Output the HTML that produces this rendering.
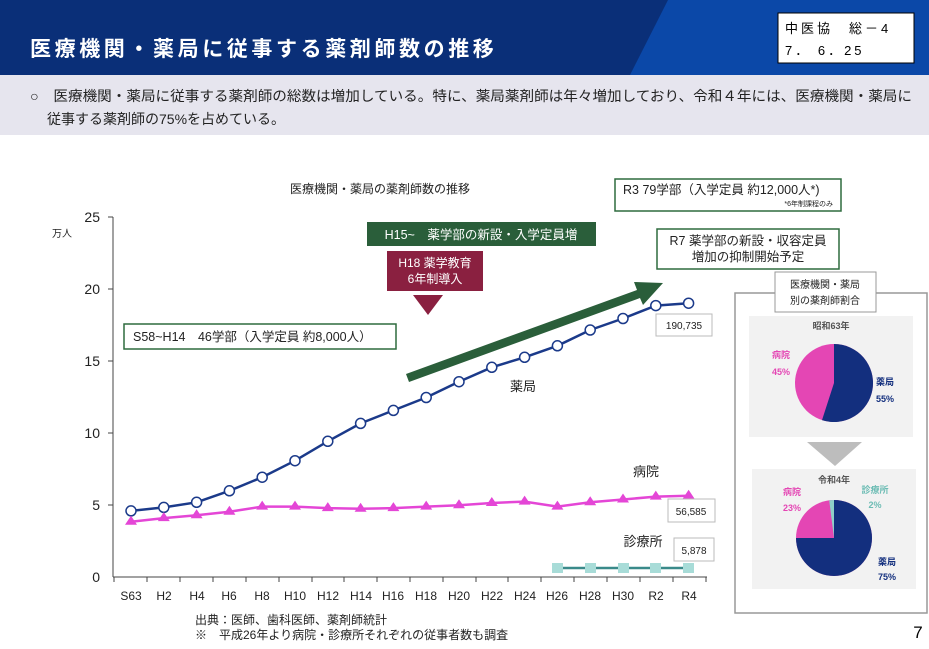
<!DOCTYPE html>
<html><head><meta charset="utf-8"><style>
body{margin:0;width:929px;height:644px;background:#fff;overflow:hidden;font-family:"Liberation Sans","Noto Sans CJK JP",sans-serif}
</style></head><body>
<svg width="929" height="644" xmlns="http://www.w3.org/2000/svg" font-family="Liberation Sans, Noto Sans CJK JP, sans-serif">
<rect x="0" y="0" width="929" height="75" fill="#0a2f78"/>
<path d="M668,0 L929,0 L929,75 L630,75z" fill="#0b48a8"/>
<text x="30" y="56" font-size="21" font-weight="bold" fill="#fff" letter-spacing="3.6">医療機関・薬局に従事する薬剤師数の推移</text>
<rect x="778" y="13" width="136" height="50" fill="#fff" stroke="#000"/>
<text x="785" y="33" font-size="13" fill="#000" letter-spacing="3">中医協　総－4</text>
<text x="785" y="55" font-size="13" fill="#000" letter-spacing="3">7．  6．25</text>
<rect x="0" y="75" width="929" height="60" fill="#e6e5ee"/>
<text x="30" y="101" font-size="14" fill="#222" textLength="882" lengthAdjust="spacingAndGlyphs">○　医療機関・薬局に従事する薬剤師の総数は増加している。特に、薬局薬剤師は年々増加しており、令和４年には、医療機関・薬局に</text>
<text x="47" y="124" font-size="14" fill="#222">従事する薬剤師の75%を占めている。</text>

<text x="380" y="193" font-size="12" text-anchor="middle" fill="#222">医療機関・薬局の薬剤師数の推移</text>
<text x="52" y="237" font-size="10" fill="#222">万人</text>
<g font-size="14" fill="#222" text-anchor="end">
<text x="100" y="222">25</text><text x="100" y="294">20</text><text x="100" y="366">15</text><text x="100" y="438">10</text><text x="100" y="510">5</text><text x="100" y="582">0</text></g>
<line x1="113" y1="217" x2="113" y2="577" stroke="#444"/>
<g stroke="#444"><line x1="108" y1="217" x2="113" y2="217"/><line x1="108" y1="289" x2="113" y2="289"/><line x1="108" y1="361" x2="113" y2="361"/><line x1="108" y1="433" x2="113" y2="433"/><line x1="108" y1="505" x2="113" y2="505"/></g>
<line x1="113" y1="577" x2="707" y2="577" stroke="#444"/>
<g stroke="#444">
<line x1="114" y1="577" x2="114" y2="582"/><line x1="147" y1="577" x2="147" y2="582"/><line x1="180" y1="577" x2="180" y2="582"/><line x1="213" y1="577" x2="213" y2="582"/><line x1="246" y1="577" x2="246" y2="582"/><line x1="279" y1="577" x2="279" y2="582"/><line x1="312" y1="577" x2="312" y2="582"/><line x1="344" y1="577" x2="344" y2="582"/><line x1="377" y1="577" x2="377" y2="582"/><line x1="410" y1="577" x2="410" y2="582"/><line x1="443" y1="577" x2="443" y2="582"/><line x1="476" y1="577" x2="476" y2="582"/><line x1="508" y1="577" x2="508" y2="582"/><line x1="541" y1="577" x2="541" y2="582"/><line x1="574" y1="577" x2="574" y2="582"/><line x1="607" y1="577" x2="607" y2="582"/><line x1="640" y1="577" x2="640" y2="582"/><line x1="673" y1="577" x2="673" y2="582"/><line x1="706" y1="577" x2="706" y2="582"/></g>
<g font-size="12" fill="#222" text-anchor="middle">
<text x="131" y="600">S63</text><text x="164" y="600">H2</text><text x="197" y="600">H4</text><text x="229" y="600">H6</text><text x="262" y="600">H8</text><text x="295" y="600">H10</text><text x="328" y="600">H12</text><text x="361" y="600">H14</text><text x="393" y="600">H16</text><text x="426" y="600">H18</text><text x="459" y="600">H20</text><text x="492" y="600">H22</text><text x="525" y="600">H24</text><text x="557" y="600">H26</text><text x="590" y="600">H28</text><text x="623" y="600">H30</text><text x="656" y="600">R2</text><text x="689" y="600">R4</text></g>
<text x="195" y="624" font-size="12" fill="#222">出典：医師、歯科医師、薬剤師統計</text>
<text x="195" y="639" font-size="12" fill="#222">※　平成26年より病院・診療所それぞれの従事者数も調査</text>

<polyline fill="none" stroke="#1b3a8a" stroke-width="2.5" points="131,510.9 163.8,507.4 196.6,502.3 229.4,490.8 262.2,477.2 295,460.7 327.8,441.3 360.6,423.4 393.4,410.4 426.2,397.5 459,381.7 491.8,367.3 524.6,357.3 557.4,345.8 590.2,330 623,318.5 655.8,305.6 688.6,303.2"/>
<g fill="#fff" stroke="#1b3a8a" stroke-width="1.5">
<circle cx="131" cy="510.9" r="5"/><circle cx="163.8" cy="507.4" r="5"/><circle cx="196.6" cy="502.3" r="5"/><circle cx="229.4" cy="490.8" r="5"/><circle cx="262.2" cy="477.2" r="5"/><circle cx="295" cy="460.7" r="5"/><circle cx="327.8" cy="441.3" r="5"/><circle cx="360.6" cy="423.4" r="5"/><circle cx="393.4" cy="410.4" r="5"/><circle cx="426.2" cy="397.5" r="5"/><circle cx="459" cy="381.7" r="5"/><circle cx="491.8" cy="367.3" r="5"/><circle cx="524.6" cy="357.3" r="5"/><circle cx="557.4" cy="345.8" r="5"/><circle cx="590.2" cy="330" r="5"/><circle cx="623" cy="318.5" r="5"/><circle cx="655.8" cy="305.6" r="5"/><circle cx="688.6" cy="303.2" r="5"/></g>
<polyline fill="none" stroke="#e446d6" stroke-width="2.5" points="131,521.7 163.8,518.1 196.6,515.3 229.4,511.7 262.2,506.6 295,506.6 327.8,508.1 360.6,508.8 393.4,508.1 426.2,506.6 459,505.2 491.8,503 524.6,501.6 557.4,506.6 590.2,502.3 623,499.5 655.8,496.6 688.6,495.7"/>
<g fill="#e446d6">
<path d="M131,515.7l6,9h-12z"/><path d="M163.8,512.1l6,9h-12z"/><path d="M196.6,509.3l6,9h-12z"/><path d="M229.4,505.7l6,9h-12z"/><path d="M262.2,500.6l6,9h-12z"/><path d="M295,500.6l6,9h-12z"/><path d="M327.8,502.1l6,9h-12z"/><path d="M360.6,502.8l6,9h-12z"/><path d="M393.4,502.1l6,9h-12z"/><path d="M426.2,500.6l6,9h-12z"/><path d="M459,499.2l6,9h-12z"/><path d="M491.8,497l6,9h-12z"/><path d="M524.6,495.6l6,9h-12z"/><path d="M557.4,500.6l6,9h-12z"/><path d="M590.2,496.3l6,9h-12z"/><path d="M623,493.5l6,9h-12z"/><path d="M655.8,490.6l6,9h-12z"/><path d="M688.6,489.7l6,9h-12z"/></g>
<line x1="557.4" y1="568" x2="688.6" y2="568" stroke="#3a8a8a" stroke-width="2.5"/>
<g fill="#a8dcd8"><rect x="552" y="563" width="11" height="10"/><rect x="585" y="563" width="11" height="10"/><rect x="618" y="563" width="11" height="10"/><rect x="650" y="563" width="11" height="10"/><rect x="683" y="563" width="11" height="10"/></g>

<text x="523" y="391" font-size="13" text-anchor="middle" fill="#222">薬局</text>
<text x="646" y="476" font-size="13" text-anchor="middle" fill="#222">病院</text>
<text x="643" y="546" font-size="13" text-anchor="middle" fill="#222">診療所</text>
<rect x="656" y="314" width="56" height="22" fill="#fff" stroke="#bbb"/><text x="684" y="329" font-size="10" text-anchor="middle" fill="#222">190,735</text>
<rect x="668" y="499" width="47" height="23" fill="#fff" stroke="#bbb"/><text x="691" y="515" font-size="10" text-anchor="middle" fill="#222">56,585</text>
<rect x="674" y="538" width="40" height="23" fill="#fff" stroke="#bbb"/><text x="694" y="554" font-size="10" text-anchor="middle" fill="#222">5,878</text>

<rect x="124" y="324" width="272" height="25" fill="#fff" stroke="#2e6b3e" stroke-width="1.5"/>
<text x="133" y="341" font-size="12.5" fill="#222">S58~H14　46学部（入学定員 約8,000人）</text>
<rect x="367" y="222" width="229" height="24" fill="#2a5e3a"/>
<text x="481" y="239" font-size="12.5" text-anchor="middle" fill="#fff">H15~　薬学部の新設・入学定員増</text>
<rect x="387" y="251" width="96" height="40" fill="#8a2040"/>
<text x="435" y="267" font-size="12" text-anchor="middle" fill="#fff">H18 薬学教育</text>
<text x="435" y="283" font-size="12" text-anchor="middle" fill="#fff">6年制導入</text>
<path d="M413,295h30l-15,20z" fill="#8a2040"/>
<path d="M406,374 L637,290 L634,282 L663,283 L643,305 L640,298 L409,382z" fill="#2a5e3a"/>
<rect x="615" y="179" width="226" height="32" fill="#fff" stroke="#2e6b3e" stroke-width="1.5"/>
<text x="623" y="194" font-size="12.5" fill="#222">R3 79学部（入学定員 約12,000人*)</text>
<text x="833" y="206" font-size="7" text-anchor="end" fill="#222">*6年制課程のみ</text>
<rect x="657" y="229" width="182" height="40" fill="#fff" stroke="#2e6b3e" stroke-width="1.5"/>
<text x="748" y="245" font-size="12.5" text-anchor="middle" fill="#222">R7 薬学部の新設・収容定員</text>
<text x="748" y="261" font-size="12.5" text-anchor="middle" fill="#222">増加の抑制開始予定</text>

<rect x="735" y="293" width="192" height="320" fill="#fff" stroke="#999" stroke-width="1.5"/>
<rect x="775" y="272" width="101" height="40" fill="#fff" stroke="#999"/>
<text x="825" y="288" font-size="10" text-anchor="middle" fill="#222">医療機関・薬局</text>
<text x="825" y="304" font-size="10" text-anchor="middle" fill="#222">別の薬剤師割合</text>
<rect x="749" y="316" width="164" height="121" fill="#f2f2f2"/>
<text x="831" y="329" font-size="9" font-weight="bold" text-anchor="middle" fill="#555">昭和63年</text>
<circle cx="834" cy="383" r="39" fill="#e446b4"/>
<path d="M834,383 L834,344 A39,39 0 1,1 822.0,420.1z" fill="#132f7e"/>
<text x="781" y="358" font-size="9" font-weight="bold" fill="#e446b4" text-anchor="middle">病院</text>
<text x="781" y="375" font-size="9" font-weight="bold" fill="#e446b4" text-anchor="middle">45%</text>
<text x="885" y="385" font-size="9" font-weight="bold" fill="#132f7e" text-anchor="middle">薬局</text>
<text x="885" y="402" font-size="9" font-weight="bold" fill="#132f7e" text-anchor="middle">55%</text>
<path d="M807,442h55l-27,24z" fill="#bdbdbd"/>
<rect x="752" y="469" width="164" height="120" fill="#f2f2f2"/>
<text x="834" y="483" font-size="9" font-weight="bold" text-anchor="middle" fill="#555">令和4年</text>
<circle cx="834" cy="538" r="38" fill="#e446b4"/>
<path d="M834,538 L834,500 A38,38 0 1,1 796,538z" fill="#132f7e"/>
<path d="M834,538 L829.2,500.3 A38,38 0 0,1 834,500z" fill="#8ed0c8"/>
<text x="792" y="495" font-size="9" font-weight="bold" fill="#e446b4" text-anchor="middle">病院</text>
<text x="792" y="511" font-size="9" font-weight="bold" fill="#e446b4" text-anchor="middle">23%</text>
<text x="875" y="493" font-size="9" font-weight="bold" fill="#6cbcb4" text-anchor="middle">診療所</text>
<text x="875" y="508" font-size="9" font-weight="bold" fill="#6cbcb4" text-anchor="middle">2%</text>
<text x="887" y="565" font-size="9" font-weight="bold" fill="#132f7e" text-anchor="middle">薬局</text>
<text x="887" y="580" font-size="9" font-weight="bold" fill="#132f7e" text-anchor="middle">75%</text>
<text x="918" y="638" font-size="17" text-anchor="middle" fill="#000">7</text>
</svg>
</body></html>
